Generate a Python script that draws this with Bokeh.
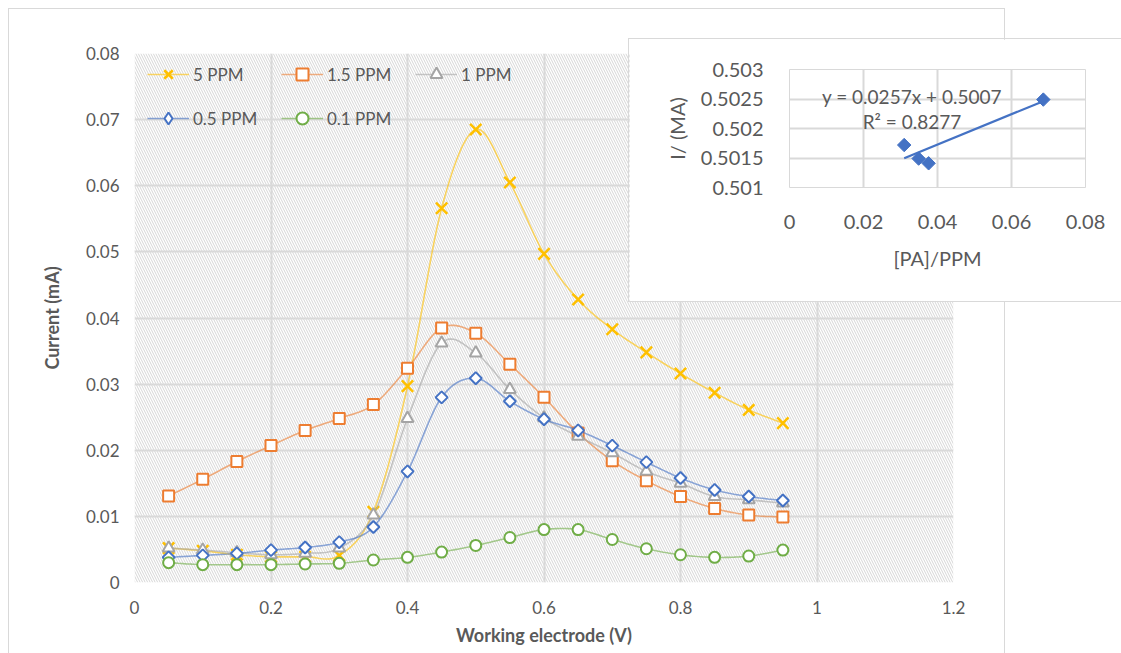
import numpy as np
from bokeh.plotting import figure
from bokeh.models import (BoxAnnotation, FixedTicker, CustomJSTickFormatter, Legend,
                          LegendItem, Label, Range1d)
from bokeh.layouts import row, column
from bokeh.embed import file_html
from bokeh.resources import INLINE

# ---------------- data ----------------
voltage = [0.05, 0.10, 0.15, 0.20, 0.25, 0.30, 0.35, 0.40, 0.45, 0.50,
           0.55, 0.60, 0.65, 0.70, 0.75, 0.80, 0.85, 0.90, 0.95]
series_labels = ["5 PPM", "1.5 PPM", "1 PPM", "0.5 PPM", "0.1 PPM"]
current_5ppm = [0.0052, 0.0048, 0.0042, 0.0039, 0.0039, 0.0041, 0.0107, 0.0297, 0.0566, 0.0685,
                0.0605, 0.0497, 0.0428, 0.0383, 0.0348, 0.0316, 0.0287, 0.0261, 0.0241]
current_1_5ppm = [0.0131, 0.0156, 0.0183, 0.0207, 0.0230, 0.0248, 0.0269, 0.0324, 0.0385, 0.0377,
                  0.0330, 0.0280, 0.0226, 0.0184, 0.0154, 0.0130, 0.0112, 0.0102, 0.0099]
current_1ppm = [0.0052, 0.0049, 0.0045, 0.0042, 0.0044, 0.0052, 0.0102, 0.0248, 0.0362, 0.0347,
                0.0292, 0.0249, 0.0221, 0.0196, 0.0168, 0.0150, 0.0130, 0.0125, 0.0120]
current_0_5ppm = [0.0038, 0.0041, 0.0044, 0.0049, 0.0053, 0.0061, 0.0084, 0.0168, 0.0280, 0.0309,
                  0.0274, 0.0247, 0.0230, 0.0207, 0.0182, 0.0158, 0.0140, 0.0130, 0.0124]
current_0_1ppm = [0.0030, 0.0027, 0.0027, 0.0027, 0.0028, 0.0029, 0.0034, 0.0038, 0.0046, 0.0056,
                  0.0068, 0.0080, 0.0080, 0.0065, 0.0051, 0.0042, 0.0038, 0.0040, 0.0049]

x_ticks = [0, 0.2, 0.4, 0.6, 0.8, 1.0, 1.2]
y_ticks = [0, 0.01, 0.02, 0.03, 0.04, 0.05, 0.06, 0.07, 0.08]

inset_pa = [0.0310, 0.0349, 0.0376, 0.0686]
inset_i = [0.50172, 0.50149, 0.50141, 0.50249]
trend_slope = 0.0257
trend_intercept = 0.5007
trend_r2 = 0.8277
inset_x_ticks = [0, 0.02, 0.04, 0.06, 0.08]
inset_y_ticks = [0.501, 0.5015, 0.502, 0.5025, 0.503]

# ---------------- style ----------------
COLORS = ["#FFC000", "#ED7D31", "#A5A5A5", "#4472C4", "#70AD47"]
TEXT = "#595959"
GRID = "#D9D9D9"
FONT = "Lato"


def smooth(xs, ys, n=14):
    """Catmull-Rom rendering of the polyline through the data points (like Excel's smoothed line)."""
    x = np.asarray(xs, float)
    y = np.asarray(ys, float)
    px = np.concatenate([[x[0]], x, [x[-1]]])
    py = np.concatenate([[y[0]], y, [y[-1]]])
    t = np.linspace(0, 1, n, endpoint=False)
    ox, oy = [], []
    for i in range(len(x) - 1):
        for arr, out in ((px, ox), (py, oy)):
            p0, p1, p2, p3 = arr[i], arr[i + 1], arr[i + 2], arr[i + 3]
            out.extend(0.5 * (2 * p1 + (-p0 + p2) * t + (2 * p0 - 5 * p1 + 4 * p2 - p3) * t ** 2
                              + (-p0 + 3 * p1 - 3 * p2 + p3) * t ** 3))
    ox.append(x[-1])
    oy.append(y[-1])
    return ox, oy


def trim_formatter(digits):
    return CustomJSTickFormatter(code=f"return tick.toFixed({digits}).replace(/\\.?0+$/, '');")


# ---------------- main chart ----------------
main = figure(width=997, height=645, output_backend="svg", toolbar_location=None,
              x_range=Range1d(0, 1.2), y_range=Range1d(0, 0.08),
              min_border_left=125, min_border_right=53, min_border_top=44, min_border_bottom=72)
main.background_fill_color = "white"
main.border_fill_color = "white"
main.outline_line_color = None
main.styles = {"border": "1px solid #D9D9D9", "border-bottom": "none"}

main.add_layout(BoxAnnotation(fill_color="white", fill_alpha=0.0, line_color=None,
                              hatch_pattern="left_diagonal_line", hatch_color="#D6D6D6",
                              hatch_scale=5, hatch_weight=1, level="image"))

main.xaxis.ticker = FixedTicker(ticks=x_ticks)
main.yaxis.ticker = FixedTicker(ticks=y_ticks)
main.xaxis.formatter = trim_formatter(1)
main.yaxis.formatter = trim_formatter(2)
for ax in (main.xaxis, main.yaxis):
    ax.axis_line_color = None
    ax.major_tick_line_color = None
    ax.minor_tick_line_color = None
    ax.major_label_text_font = FONT
    ax.major_label_text_font_size = "17px"
    ax.major_label_text_color = TEXT
    ax.axis_label_text_font = FONT
    ax.axis_label_text_font_size = "18px"
    ax.axis_label_text_font_style = "bold"
    ax.axis_label_text_color = TEXT
main.xaxis.axis_label = "Working electrode (V)"
main.yaxis.axis_label = "Current (mA)"
main.xaxis.major_label_standoff = 12
main.xaxis.axis_label_standoff = 7
main.yaxis.major_label_standoff = 9
main.yaxis.axis_label_standoff = 20
main.grid.grid_line_color = GRID
main.grid.grid_line_width = 2

all_series = [current_5ppm, current_1_5ppm, current_1ppm, current_0_5ppm, current_0_1ppm]
markers = ["x", "square", "triangle", "square", "circle"]
legend_markers = ["x", "square", "triangle", "diamond", "circle"]
sizes = [16, 11, 12, 8.5, 11]
angles = [0, 0, 0, np.pi / 4, 0]
items = []
for lab, ys, col, mk, lmk, sz, ang in zip(series_labels, all_series, COLORS, markers,
                                          legend_markers, sizes, angles):
    sx, sy = smooth(voltage, ys)
    lw = 2.5 if mk == "x" else 2
    lr = main.line(sx, sy, line_color=col, line_alpha=0.6, line_width=1.6)
    sr = main.scatter(voltage, ys, marker=mk, size=sz, angle=ang,
                      line_color=col, line_width=lw, fill_color="white")
    if lmk != mk:
        # legend swatch only (Bokeh legends draw markers unrotated); its single point is NaN, never drawn
        sr = main.scatter(x=[np.nan], y=[np.nan], marker=lmk, line_color=col, line_width=lw,
                          fill_color="white")
    items.append(LegendItem(label=lab, renderers=[lr, sr]))

legend = Legend(items=items, orientation="horizontal", ncols=3, location=(13, 449),
                margin=0, padding=0, spacing=14, glyph_width=42, glyph_height=30,
                label_standoff=4, label_width=74, label_text_font=FONT,
                label_text_font_size="17px",
                label_text_color=TEXT, background_fill_alpha=0, border_line_color=None)
main.add_layout(legend)

# ---------------- inset chart ----------------
inset = figure(width=493, height=264, output_backend="svg", toolbar_location=None,
               x_range=Range1d(0, 0.08), y_range=Range1d(0.501, 0.503),
               min_border_left=160, min_border_right=37, min_border_top=30, min_border_bottom=116)
inset.background_fill_color = "white"
inset.border_fill_color = "white"
inset.outline_line_color = GRID
inset.styles = {"border": "1px solid #D9D9D9", "border-right": "none"}
inset.xaxis.ticker = FixedTicker(ticks=inset_x_ticks)
inset.yaxis.ticker = FixedTicker(ticks=inset_y_ticks)
inset.xaxis.formatter = trim_formatter(2)
inset.yaxis.formatter = trim_formatter(4)
for ax in (inset.xaxis, inset.yaxis):
    ax.axis_line_color = None
    ax.major_tick_line_color = None
    ax.minor_tick_line_color = None
    ax.major_label_text_font = FONT
    ax.major_label_text_font_size = "20px"
    ax.major_label_text_color = TEXT
    ax.axis_label_text_font = FONT
    ax.axis_label_text_font_size = "20px"
    ax.axis_label_text_font_style = "normal"
    ax.axis_label_text_color = TEXT
inset.xaxis.axis_label = "[PA]/PPM"
inset.yaxis.axis_label = "I/ (MA)"
inset.xaxis.major_label_standoff = 21
inset.xaxis.axis_label_standoff = 14
inset.yaxis.major_label_standoff = 20
inset.yaxis.axis_label_standoff = 9
inset.grid.grid_line_color = GRID
inset.grid.grid_line_width = 2

tx = [min(inset_pa), max(inset_pa)]
ty = [trend_slope * v + trend_intercept for v in tx]
inset.line(tx, ty, line_color="#4472C4", line_width=2.2)
inset.scatter(inset_pa, inset_i, marker="square", angle=np.pi / 4, size=9.5,
              fill_color="#4472C4", line_color="#4472C4")
inset.add_layout(Label(x=0.0331, y=0.50254, text=f"y = {trend_slope}x + {trend_intercept}",
                       text_align="center", text_baseline="middle", text_font=FONT,
                       text_font_size="19px", text_color=TEXT))
inset.add_layout(Label(x=0.0331, y=0.50212, text=f"R\u00b2 = {trend_r2}",
                       text_align="center", text_baseline="middle", text_font=FONT,
                       text_font_size="19px", text_color=TEXT))

main_box = column(main, margin=(8, 0, 0, 8))
inset_box = column(inset, margin=(38, 0, 0, -377))
layout = row(main_box, inset_box)
open("out.html", "w").write(file_html(layout, INLINE))
